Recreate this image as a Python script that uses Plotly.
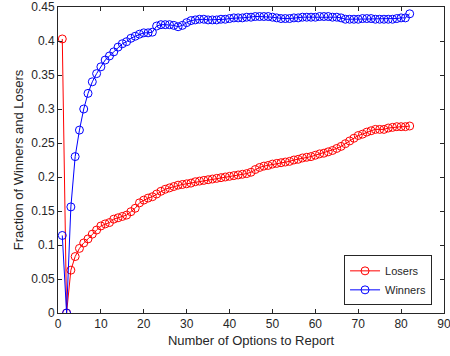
import plotly.graph_objects as go

x_vals = list(range(1, 83))

losers = [0.403, 0.0, 0.063, 0.083, 0.095, 0.103, 0.109, 0.116, 0.122, 0.128,
          0.131, 0.133, 0.138, 0.140, 0.142, 0.144, 0.149, 0.154, 0.162, 0.166,
          0.169, 0.171, 0.175, 0.179, 0.182, 0.184, 0.186, 0.188, 0.189, 0.190,
          0.191, 0.193, 0.194, 0.195, 0.196, 0.197, 0.198, 0.199, 0.200, 0.201,
          0.202, 0.203, 0.204, 0.205, 0.207, 0.211, 0.214, 0.216, 0.217, 0.219,
          0.220, 0.221, 0.222, 0.223, 0.225, 0.226, 0.228, 0.229, 0.230, 0.232,
          0.234, 0.235, 0.237, 0.239, 0.242, 0.245, 0.249, 0.253, 0.257, 0.261,
          0.263, 0.266, 0.268, 0.270, 0.270, 0.270, 0.272, 0.273, 0.274, 0.274,
          0.274, 0.275]

winners = [0.114, 0.0, 0.156, 0.230, 0.269, 0.300, 0.323, 0.340, 0.352, 0.362,
           0.372, 0.378, 0.384, 0.391, 0.396, 0.399, 0.404, 0.407, 0.410, 0.412,
           0.412, 0.413, 0.422, 0.424, 0.424, 0.424, 0.423, 0.421, 0.423, 0.427,
           0.430, 0.431, 0.432, 0.432, 0.431, 0.431, 0.431, 0.432, 0.432, 0.433,
           0.434, 0.434, 0.434, 0.435, 0.435, 0.436, 0.436, 0.436, 0.436, 0.435,
           0.434, 0.433, 0.433, 0.433, 0.434, 0.434, 0.435, 0.435, 0.435, 0.435,
           0.436, 0.436, 0.436, 0.435, 0.435, 0.434, 0.432, 0.432, 0.432, 0.432,
           0.433, 0.433, 0.433, 0.432, 0.432, 0.432, 0.432, 0.432, 0.433, 0.434,
           0.434, 0.440]

x_ticks = [0, 10, 20, 30, 40, 50, 60, 70, 80, 90]
y_ticks = [0, 0.05, 0.1, 0.15, 0.2, 0.25, 0.3, 0.35, 0.4, 0.45]
y_labels = ["0", "0.05", "0.1", "0.15", "0.2", "0.25", "0.3", "0.35", "0.4", "0.45"]

FONT = "Liberation Sans, Arial, sans-serif"

fig = go.Figure()
fig.add_trace(go.Scatter(
    x=x_vals, y=losers, name="Losers", mode="lines+markers",
    line=dict(color="#ff0000", width=1),
    marker=dict(symbol="circle-open", size=8, color="#ff0000", line=dict(width=1)),
))
fig.add_trace(go.Scatter(
    x=x_vals, y=winners, name="Winners", mode="lines+markers",
    line=dict(color="#0000ff", width=1),
    marker=dict(symbol="circle-open", size=8, color="#0000ff", line=dict(width=1)),
))

axis_common = dict(
    showgrid=False, zeroline=False, showline=True, linecolor="#262626", linewidth=1,
    mirror="ticks", ticks="inside", ticklen=4, tickcolor="#262626", tickwidth=1,
    tickfont=dict(family=FONT, size=12, color="#262626"),
    automargin=False, ticklabeloverflow="allow",
)

fig.update_layout(
    width=450, height=356,
    margin=dict(l=58, r=6, t=7, b=43),
    paper_bgcolor="white", plot_bgcolor="white",
    font=dict(family=FONT, size=11, color="#262626"),
    xaxis=dict(range=[0, 90], tickmode="array", tickvals=x_ticks,
               title=dict(text="Number of Options to Report", font=dict(size=13), standoff=5),
               **axis_common),
    yaxis=dict(range=[0, 0.45], tickmode="array", tickvals=y_ticks, ticktext=y_labels,
               title=dict(text="Fraction of Winners and Losers", font=dict(size=13), standoff=4),
               **axis_common),
    legend=dict(x=0.969, y=0.025, xanchor="right", yanchor="bottom",
                bordercolor="#262626", borderwidth=1, bgcolor="white",
                font=dict(family=FONT, size=11, color="#262626"), tracegroupgap=0,
                itemwidth=30),
    showlegend=True,
)

fig.write_html("out.html", config={"displayModeBar": False},
               post_script="document.body.style.margin='0';")
